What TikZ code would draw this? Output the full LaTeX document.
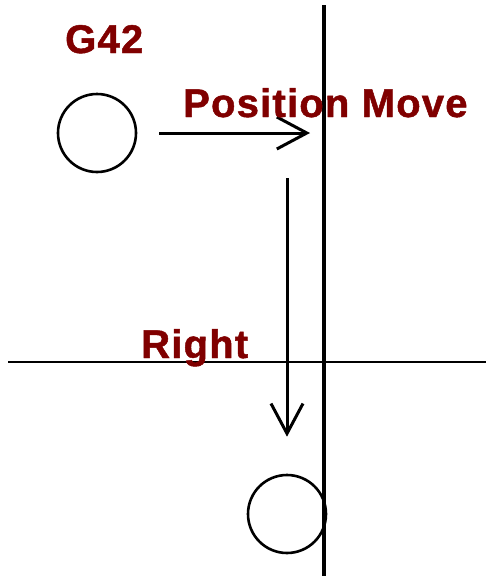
\documentclass[tikz,border=0pt]{standalone}
\usepackage{fontspec}
\setmainfont{Liberation Sans}[BoldFeatures={FakeBold=1.2}]
\usetikzlibrary{arrows.meta}
\definecolor{labelred}{RGB}{128,0,0}
\tikzset{
  label text/.style={text=labelred, font=\fontsize{40}{44}\selectfont\bfseries\addfontfeature{LetterSpace=3}, inner sep=0pt, anchor=base west},
  tool/.style={draw, circle, line width=2.6pt, minimum size=78pt, inner sep=0pt},
  move/.style={line width=3pt, -{Straight Barb[length=30pt, width=32pt]}}
}
\begin{document}
\begin{tikzpicture}[x=1pt, y=-1pt]
		\useasboundingbox (0,0) rectangle (486,576);
		% Part edge and crossing line
		\draw[line width=3.5pt] (324,5) -- (324,576);
		\draw[line width=1.7pt] (8,362) -- (486,362);
		% Tool positions
		\node[tool] (startpos) at (97,133) {};
		\node[tool] (endpos) at (287,514) {};
		% Moves
		\coordinate (movetip) at (310,133);
		\coordinate (downstart) at (287,178);
		\draw[move, shorten <=22pt] (startpos.east) -- (movetip);
		\draw[move, shorten >=37pt] (downstart) -- (endpos.north);
		% Labels
		\node[label text] (g42) at (65,53) {G42};
		\node[label text] (posmove) at (183,117) {Position Move};
		\node[label text] (right) at (141,358) {Right};
	\end{tikzpicture}
\end{document}
